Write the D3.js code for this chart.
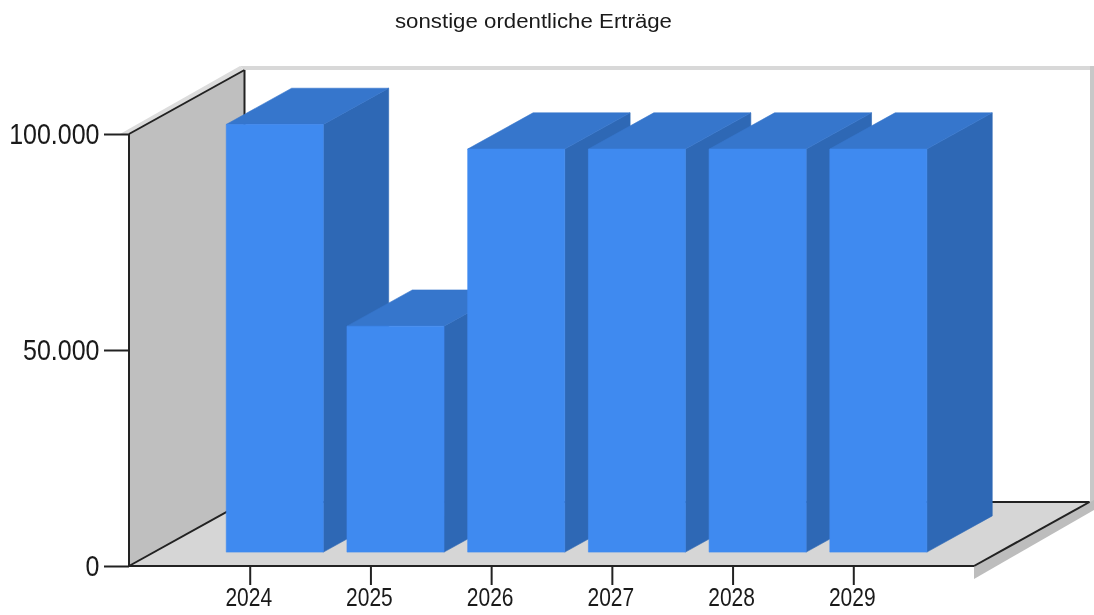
<!DOCTYPE html>
<html>
<head>
<meta charset="utf-8">
<script src="https://cdn.jsdelivr.net/npm/d3@7"></script>
<style>
    html, body { margin: 0; padding: 0; background: #fff; }
    svg { display: block; filter: blur(0.45px); }
    text { font-family: "Liberation Sans", Arial, sans-serif; fill: #1a1a1a; }
    .axis path { display: none; }
    .axis line { stroke: #222; stroke-width: 2; }
</style>
</head>
<body>
<script>
var title = "sonstige ordentliche Erträge";
var years = [2024, 2025, 2026, 2027, 2028, 2029];
var values = [99000, 52300, 93300, 93300, 93300, 93300];
var valueTicks = [0, 50000, 100000];

var width = 1094;
var height = 615;
var left = 129, right = 974, bottom = 566, top_ = 134;
var depthX = 115.5, depthY = 64;
var barFront = 0.217, barBack = 0.783;
var barHalf = 0.402;

var xScale = d3.scaleLinear().domain([2023, 2030]).range([left, right]);
var yScale = d3.scaleLinear().domain([0, 100000]).range([bottom, top_]);

// x in years, v in value units, d from 0 (front plane) to 1 (back wall)
function project(x, v, d) {
    return [xScale(x) + d * depthX, yScale(v) - d * depthY];
}
function poly(points) {
    return points.map(function (p) { return p.join(","); }).join(" ");
}

var svg = d3.select("body").append("svg")
    .attr("width", width)
    .attr("height", height);

svg.append("text")
    .attr("x", 533.5)
    .attr("y", 28)
    .attr("text-anchor", "middle")
    .attr("textLength", 277)
    .attr("lengthAdjust", "spacingAndGlyphs")
    .style("font-size", "20.5px")
    .text(title);

var minX = 2023, maxX = 2030, maxV = 100000;

// shadow strips behind the walls
svg.append("polygon").attr("fill", "#d8d8d8")
    .attr("points", poly([[240, 66], [1094, 66], [1094, 70], [244, 70]]));
svg.append("polygon").attr("fill", "#c8c8c8")
    .attr("points", poly([[1090, 66], [1094, 66], [1094, 502], [1090, 502]]));
svg.append("polygon").attr("fill", "#dcdcdc")
    .attr("points", poly([[120, 134], [240, 66], [244, 70], [129, 134]]));
svg.append("polygon").attr("fill", "#bdbdbd")
    .attr("points", poly([[974, 566], [1094, 500], [1094, 510], [974, 579]]));

// floor and left wall
svg.append("polygon").attr("fill", "#d6d6d6")
    .attr("points", poly([project(minX, 0, 0), project(maxX, 0, 0), project(maxX, 0, 1), project(minX, 0, 1)]));
svg.append("polygon").attr("fill", "#bfbfbf")
    .attr("points", poly([project(minX, 0, 0), project(minX, maxV, 0), project(minX, maxV, 1), project(minX, 0, 1)]));

// frame lines
var frame = [
    [project(minX, maxV, 0), project(minX, maxV, 1)],
    [project(minX, maxV, 1), project(minX, 0, 1)],
    [project(minX, 0, 1), project(maxX, 0, 1)],
    [project(minX, 0, 0), project(minX, 0, 1)],
    [project(maxX, 0, 0), project(maxX, 0, 1)],
    [project(minX, 0, 0), project(maxX, 0, 0)],
    [project(minX, 0, 0), project(minX, maxV, 0)]
];
svg.append("g").selectAll("line")
    .data(frame)
    .join("line")
    .attr("x1", function (d) { return d[0][0]; })
    .attr("y1", function (d) { return d[0][1]; })
    .attr("x2", function (d) { return d[1][0]; })
    .attr("y2", function (d) { return d[1][1]; })
    .attr("stroke", "#222")
    .attr("stroke-width", 2);

// axes, the tick labels in the original are stretched vertically
var yAxis = d3.axisLeft(yScale)
    .tickValues(valueTicks)
    .tickSize(25)
    .tickPadding(4.5)
    .tickFormat(function (d) { return d3.format(",")(d).replace(/,/g, "."); });
svg.append("g").attr("class", "axis")
    .attr("transform", "translate(" + left + ",0)")
    .call(yAxis)
    .selectAll("text")
    .style("font-size", "25px")
    .attr("transform", "scale(1,1.2)");

var xAxis = d3.axisBottom(xScale)
    .tickValues(years)
    .tickSize(19)
    .tickPadding(-1.4)
    .tickFormat(d3.format("d"));
svg.append("g").attr("class", "axis")
    .attr("transform", "translate(0," + bottom + ")")
    .call(xAxis)
    .selectAll("text")
    .style("font-size", "21px")
    .attr("dx", -1.5)
    .attr("transform", "scale(1,1.22)");

// bars, left to right so each front covers the side of the one before
var bars = svg.append("g").selectAll("g")
    .data(years.map(function (y, i) { return { year: y, value: values[i] }; }))
    .join("g");

bars.append("polygon").attr("fill", "#2e68b5").attr("stroke", "#2e68b5").attr("stroke-width", 0.6)
    .attr("points", function (d) {
        var x = d.year + barHalf;
        return poly([project(x, 0, barFront), project(x, 0, barBack), project(x, d.value, barBack), project(x, d.value, barFront)]);
    });
bars.append("polygon").attr("fill", "#3676cc").attr("stroke", "#3676cc").attr("stroke-width", 0.6)
    .attr("points", function (d) {
        var a = d.year - barHalf, b = d.year + barHalf;
        return poly([project(a, d.value, barFront), project(b, d.value, barFront), project(b, d.value, barBack), project(a, d.value, barBack)]);
    });
bars.append("polygon").attr("fill", "#3f8af0").attr("stroke", "#3f8af0").attr("stroke-width", 0.6)
    .attr("points", function (d) {
        var a = d.year - barHalf, b = d.year + barHalf;
        return poly([project(a, 0, barFront), project(b, 0, barFront), project(b, d.value, barFront), project(a, d.value, barFront)]);
    });
</script>
</body>
</html>
